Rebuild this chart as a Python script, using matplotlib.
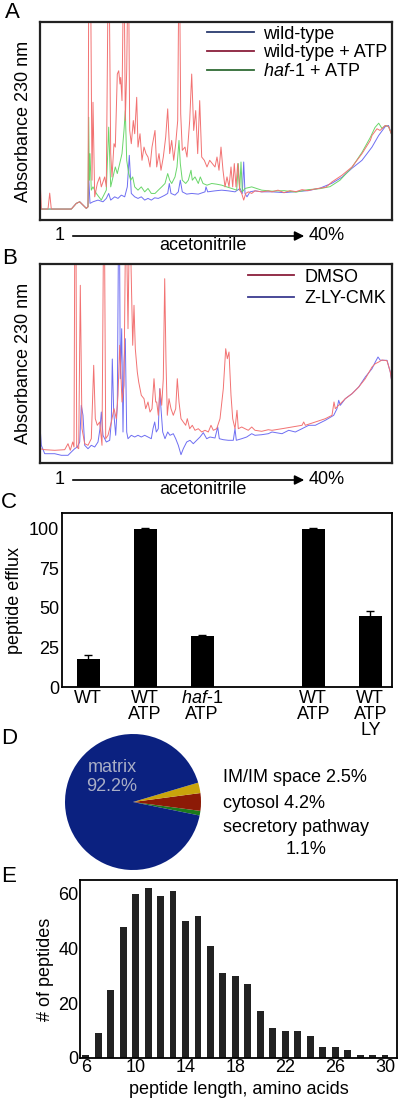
import numpy as np
import matplotlib
matplotlib.use("Agg")
import matplotlib.pyplot as plt
from matplotlib.lines import Line2D

plt.rcParams['font.family'] = ['Liberation Sans', 'DejaVu Sans']
plt.rcParams['mathtext.fontset'] = 'custom'
plt.rcParams['mathtext.it'] = 'Liberation Sans:italic'
plt.rcParams['mathtext.rm'] = 'Liberation Sans'

# ----------------------------
# Data
# ----------------------------
# panel A chromatograms (elution position, absorbance), traced by hand
A_WT_X = [0, 31.3, 36.3, 39.7, 43, 46.3, 48, 48.7, 50, 53, 58, 63, 66.3, 68.7, 70.7, 74.7, 78,
          81.3, 84.7, 87.3, 89.3, 91.3, 94.7, 98, 101.3, 104.7, 108, 111.3, 114.7, 118.3, 121.7,
          125, 127.7, 129.3, 131, 135, 138.3, 140.3, 142.3, 146.7, 151.7, 158.3, 165, 166, 167.7,
          175, 181.7, 188.3, 195, 200, 202.3, 203.7, 205, 207, 210, 215, 221.7, 232, 244, 256,
          268, 280, 292, 302, 312, 322, 332, 338.7, 345.3, 348.5, 352]
A_WT_Y = [11, 11, 16.7, 18.3, 15, 11.7, 13.3, 43.3, 16.7, 18.3, 20, 18.3, 21.7, 26.7, 20, 23.3, 21.7,
          25, 23.3, 33.3, 65, 26.7, 23.3, 21.7, 23.3, 20, 21.7, 20, 22.3, 21.7, 23.3,
          25, 26.7, 36.7, 26.7, 25, 28.3, 40, 28.3, 26, 26.7, 26, 28.3, 33.3, 28.3,
          29.3, 30, 29.3, 28.3, 31.7, 26.7, 58.3, 26.7, 23.3, 28.3, 29.3, 28.3, 28.3, 27.5, 28.5,
          29.5, 32, 37, 43, 52, 60, 73.3, 85, 94, 95, 85]

A_ATP_X = [0.5, 1.3, 8, 9.7, 11.3, 31.3, 36.3, 39.7, 43, 46.3, 48, 48.7, 50.7, 52, 53, 54.7,
           57.3, 59.7, 61.3, 64.7, 66.3, 68, 69.3, 70.7, 72, 74, 75.3, 77.3, 78.7, 80, 80.7,
           82, 83.3, 84.3, 85.3, 86.7, 87.7, 88.7, 89.7, 91.3, 93.3, 94.7, 96.7, 98, 100, 102,
           104, 106, 108, 110, 112, 115, 116.7, 119, 121, 123.3, 125.7, 127.7, 129.7, 131.7,
           133.7, 135.7, 137.7, 138.7, 139.7, 140.7, 142.3, 145, 147, 149.7, 151.7, 153.7,
           155.7, 157.7, 159.7, 161.7, 164.3, 167, 169.7, 172.3, 175, 177, 179, 181, 183, 185,
           187, 189, 191, 192.7, 194.3, 196, 197.7, 199.7, 201.7, 203.7, 205.7, 208.3, 211.7,
           215, 221.7, 228.3, 232, 238, 244, 250, 256, 262, 268, 274, 280, 286, 292, 302, 312,
           322, 330.3, 332, 337, 340, 345.3, 348.5, 352]
A_ATP_Y = [31.7, 11, 11, 27, 11, 11, 16.7, 18.3, 15, 11.7, 13.3, 230, 230, 40, 118.3, 23.3,
           36.7, 43.3, 33.3, 43.3, 33.3, 230, 230, 66.7, 43.3, 76.7, 73.3, 146.7, 150, 136.7, 143.3,
           120, 230, 230, 100, 150, 230, 230, 90, 76.7, 100, 86.7, 123.3, 73.3, 86.7, 60,
           73.3, 66.7, 63.3, 53.3, 73.3, 90, 53.3, 66.7, 50, 63.3, 83.3, 111.7, 66.7, 80,
           60, 76.7, 100, 230, 230, 106.7, 70, 73.3, 63.3, 100, 146.7, 90,
           110, 66.7, 120, 63.3, 60, 53.3, 60, 56.7, 53.3, 63.3, 50, 73.3, 50, 33.3,
           43.3, 33.3, 53.3, 33.3, 56.7, 33.3, 56.7, 30, 26.7, 20, 26.7, 28.3, 26.7,
           29.3, 28.3, 29.3, 28.3, 30, 27.5, 29.5, 28.5, 30.5, 29.5, 31, 32, 33, 38.3, 45, 53.3,
           66.7, 80, 85, 91.7, 90, 95, 94, 85]

A_HAF_X = [0, 31.3, 36.3, 39.7, 43, 46.3, 48, 48.7, 49.3, 50, 51.3, 53, 56.3, 61.3, 66.3, 68.7,
           70.7, 73, 75.3, 77.3, 79.7, 82, 84, 85.3, 86.7, 88.7, 90.7, 92.7, 94.7, 98, 101.3,
           104.7, 108, 111.3, 115, 118.3, 121.7, 125, 127.7, 129.7, 131.7, 135, 137, 139, 140.3,
           142.3, 145.7, 148.3, 151, 152.3, 155, 158.3, 160.3, 163, 167, 171.7, 176.7, 181.7,
           186.7, 191.7, 196.7, 198.3, 199.7, 201, 202.3, 205, 211.7, 221.7, 232, 244, 256, 268,
           280, 290, 300, 312, 322, 330.3, 335, 338.7, 342, 345.3, 348.5, 352]
A_HAF_Y = [11, 11, 16.7, 18.3, 15, 11.7, 13.3, 103.3, 40, 66.7, 30, 33.3, 26.7, 20, 30, 93.3,
           33.3, 43.3, 53.3, 46.7, 56.7, 66.7, 90, 110, 60, 46.7, 40, 43.3, 33.3, 30, 33.3,
           28.3, 31.7, 26.7, 26.7, 30, 33.3, 36.7, 46.7, 40, 36.7, 43.3, 53.3, 80, 56.7,
           40, 36.7, 40, 50, 40, 43.3, 36.7, 43.3, 36.7, 35, 36.7, 36, 35,
           33.3, 31.7, 30, 56.7, 30, 58.3, 28.3, 31.7, 33.3, 30, 29, 29.5, 28, 30.5,
           31.5, 33.5, 40, 53, 68, 83, 93, 97.3, 92, 95, 94, 85]

# panel B chromatograms
B_DMSO_X = [0, 4.7, 14.7, 24.7, 28, 30.3, 32.7, 34, 34.8, 36, 36.7, 38.7, 40.3, 42, 44.7, 48,
            51.3, 53.7, 55.3, 57.3, 59.7, 62, 63.5, 64.5, 65.7, 68, 71.3, 74, 76.3, 78, 79.7, 82,
            84, 85.5, 86.5, 88, 89.3, 90.3, 91.3, 92.7, 94, 95.3, 97.3, 98.7, 101.3, 104, 105.7,
            108, 110, 112, 114, 115.7, 116.7, 118.3, 120, 121.7, 123.3, 124.7, 126, 127.3, 129,
            131, 133.3, 135.7, 137.3, 139, 141, 143.3, 145.7, 147.3, 149.7, 152.3, 155, 158.3,
            161.7, 165, 168.3, 171, 173.3, 176.7, 180, 183.3, 185.7, 187.3, 189, 191, 192.7, 195,
            197, 198.3, 201.7, 205, 208.3, 211.7, 215, 221.7, 228.3, 232, 242, 252, 262, 263.7,
            265.3, 275.3, 285.3, 292, 294, 295.3, 298.7, 305.3, 312, 318.7, 325.3, 332, 335.3,
            338.7, 342, 347, 350.3, 352]
B_DMSO_Y = [14.3, 13.3, 12.7, 13.3, 19.3, 12.7, 21, 16, 230, 230, 16, 14.3, 177.7, 34.3, 19.3, 17.7,
            24.3, 97.7, 44.3, 37.7, 41, 17.7, 230, 230, 24.3, 27.7, 41, 54.3, 44.3, 67.7, 117.7, 61,
            77.7, 230, 230, 134.3, 230, 230, 184.3, 117.7, 157.7, 114.3, 91, 81, 67.7, 64.3, 54.3,
            61, 51, 54.3, 84.3, 61, 61, 47.7, 74.3, 57.7, 84.3, 184.3, 101, 47.7, 64.3,
            54.3, 47.7, 54.3, 84.3, 61, 44.3, 41, 37.7, 44.3, 34.3, 37.7, 32.7, 34.3,
            31, 32.7, 31, 37.7, 32.7, 34.3, 44.3, 74.3, 114.3, 104.3, 111, 67.7, 44.3, 34.3,
            52.7, 34.3, 36, 34.3, 32.7, 36, 32.7, 31.7, 33.3, 32.7, 34.3, 36, 37.7, 41,
            37.7, 41, 44.3, 47.7, 61, 54.3, 57.7, 64.3, 69.3, 76, 84.3, 96, 99.3,
            101, 103, 102.3, 91, 80]

B_LY_X = [0, 1.3, 4.7, 14.7, 21.3, 28, 31.3, 34.7, 37.3, 39.7, 41.3, 43, 44.7, 48, 51.3, 54.7,
          58, 60, 61.3, 63, 66.3, 69.7, 71.3, 72.3, 73.7, 75.7, 77.3, 78.5, 79.5, 80.3, 81.7, 83,
          84, 85.3, 86.7, 88, 91.3, 94.7, 98, 101.3, 104.7, 108, 111.3, 113, 114.7, 116.3, 118.3,
          119.7, 121, 122.7, 125, 127.7, 130, 133.3, 135.7, 138.3, 141, 143.3, 146.7, 150,
          153.3, 156.7, 160, 163.3, 166.7, 170, 175, 177.7, 179.3, 183.3, 188.3, 193.3, 195,
          196.3, 201.7, 206.7, 211.7, 215, 221.7, 228.3, 232, 242, 248.7, 255.3, 262, 268.7,
          275.3, 285.3, 293.7, 297, 298.7, 300.3, 305.3, 312, 318.7, 325.3, 332, 335.3, 338,
          340.3, 343.7, 347, 350.3, 352]
B_LY_Y = [37.7, 17.7, 9.3, 9.3, 7.7, 7.7, 11, 14.3, 16, 21, 57.7, 47.7, 17.7, 14.3, 17.7, 16,
          21, 34.3, 51, 27.7, 21, 22.7, 41, 104, 51, 27.7, 57.7, 230, 230, 84.3, 134.3, 31,
          101, 124.3, 31, 24.3, 27.7, 26, 27.7, 26, 27.7, 26, 24.3, 34.3, 41, 31, 34.3,
          74.3, 54.3, 31, 24.3, 31, 27.7, 29.3, 24.3, 17.7, 8.3, 14.3, 21, 22.7,
          19.3, 22.7, 26, 30.3, 24.3, 26, 25, 36, 24.3, 23.3, 22.7, 22.7, 34.3,
          22.7, 24.3, 26, 29.3, 27.7, 28.3, 29.3, 31, 29.3, 32.7, 31, 34.3, 37.7,
          37.7, 42.7, 47.7, 54.3, 62.7, 57.7, 64.3, 69.3, 76, 86, 94.3, 101, 106,
          102.7, 102.7, 102.7, 91, 80]

# panel C
C_LABELS = ["WT", "WT\nATP", "$\\mathit{haf}$-$\\mathit{1}$\nATP", "WT\nATP", "WT\nATP\nLY"]
C_EFFLUX = [18, 100, 32, 100, 45]
C_ERR = [2, 0.4, 1, 0.4, 3]

# panel D
D_LABELS = ["secretory pathway", "cytosol", "IM/IM space", "matrix"]
D_PCT = [1.1, 4.2, 2.5, 92.2]
D_COLORS = ["#1c7a1c", "#8c1a06", "#c9a40c", "#0b2180"]

# panel E
E_LENGTH = list(range(6, 31))
E_COUNT = [1, 9, 25, 48, 60, 62, 59, 61, 50, 52, 41, 31, 30, 27, 17, 11, 10, 10, 8, 4, 4, 3, 1, 1, 1]

# ----------------------------
# Layout helpers (pixel -> figure fraction)
# ----------------------------
W, H = 400, 1105
FS = 13


def box(l, t, r, b):
    return [l / W, 1 - b / H, (r - l) / W, (b - t) / H]


def ftext(x, y, s, **kw):
    fig.text(x / W, 1 - y / H, s, **kw)


def arrow_axis(y_arrow, y_label):
    ftext(60, y_arrow, "1", ha="center", va="center", fontsize=FS)
    ftext(309, y_arrow, "40%", ha="left", va="center", fontsize=FS)
    fig.add_artist(plt.matplotlib.patches.FancyArrowPatch(
        (70 / W, 1 - y_arrow / H), (307 / W, 1 - y_arrow / H),
        transform=fig.transFigure, arrowstyle="-|>", mutation_scale=14,
        lw=1.2, color="black"))
    ftext(203, y_label, "acetonitrile", ha="center", va="center", fontsize=FS)


def chrom_axes(rect):
    ax = fig.add_axes(rect)
    ax.set_xlim(0, 352)
    ax.set_ylim(0, 199)
    ax.set_xticks([])
    ax.set_yticks([])
    for s in ax.spines.values():
        s.set_linewidth(1.6)
        s.set_color("#222222")
    ax.set_ylabel("Absorbance 230 nm", fontsize=FS, labelpad=6)
    return ax


fig = plt.figure(figsize=(W / 100, H / 100), dpi=100)

# ----------------------------
# A
# ----------------------------
axA = chrom_axes(box(40, 22, 392, 220))
axA.plot(A_WT_X, A_WT_Y, color="#6e6ef2", lw=0.7)
axA.plot(A_HAF_X, A_HAF_Y, color="#6ad66a", lw=0.7)
axA.plot(A_ATP_X, A_ATP_Y, color="#f27272", lw=0.7)
hA = [Line2D([], [], color="#2a3a6e", lw=1.3),
      Line2D([], [], color="#8a1f3c", lw=1.3),
      Line2D([], [], color="#2f6b35", lw=1.3)]
axA.legend(hA, ["wild-type", "wild-type + ATP", "$\\mathit{haf}$-$\\mathit{1}$ + ATP"],
           loc="upper left", bbox_to_anchor=((203 - 40) / 352, 1.0), frameon=False,
           fontsize=FS, handlelength=2.6, handletextpad=0.55, labelspacing=0.1,
           borderpad=0.2, borderaxespad=0)
ftext(12, 12, "A", ha="center", va="center", fontsize=16)
arrow_axis(236, 246)

# ----------------------------
# B
# ----------------------------
axB = chrom_axes(box(40, 264, 392, 463))
axB.plot(B_LY_X, B_LY_Y, color="#6e6ef2", lw=0.7)
axB.plot(B_DMSO_X, B_DMSO_Y, color="#f27272", lw=0.7)
hB = [Line2D([], [], color="#8a1f3c", lw=1.3),
      Line2D([], [], color="#3c3c90", lw=1.3)]
axB.legend(hB, ["DMSO", "Z-LY-CMK"], loc="upper left",
           bbox_to_anchor=((243 - 40) / 352, 1.0), frameon=False, fontsize=FS,
           handlelength=2.6, handletextpad=0.55, labelspacing=0.25,
           borderpad=0.25, borderaxespad=0)
ftext(10, 258, "B", ha="center", va="center", fontsize=16)
arrow_axis(480, 490)

# ----------------------------
# C
# ----------------------------
axC = fig.add_axes(box(62, 513, 392, 687))
xc = np.array([0, 1, 2, 3.95, 4.95])
axC.bar(xc, C_EFFLUX, width=0.4, color="black",
        yerr=C_ERR, error_kw=dict(ecolor="black", elinewidth=1, capsize=3, capthick=1))
axC.set_xlim(-0.46, 5.33)
axC.set_ylim(0, 110)
axC.set_yticks([0, 25, 50, 75, 100])
axC.set_xticks(xc)
axC.set_xticklabels(C_LABELS, linespacing=0.95)
axC.tick_params(axis="both", length=0, labelsize=FS, pad=2)
axC.set_ylabel("peptide efflux", fontsize=FS, labelpad=4)
for s in axC.spines.values():
    s.set_linewidth(1.3)
ftext(9, 503, "C", ha="center", va="center", fontsize=16)

# ----------------------------
# D
# ----------------------------
axD = fig.add_axes(box(65, 734, 201, 870))
axD.pie(D_PCT, colors=D_COLORS, startangle=-11.5, counterclock=True,
        wedgeprops=dict(linewidth=0))
axD.set_xlim(-1, 1)
axD.set_ylim(-1, 1)
axD.text(-0.31, 0.37, "matrix\n%.1f%%" % D_PCT[3], ha="center", va="center",
         color="#a9aec6", fontsize=FS, linespacing=1.15)
ftext(223, 778, "%s %.1f%%" % (D_LABELS[2], D_PCT[2]), ha="left", va="center", fontsize=FS)
ftext(223, 803, "%s %.1f%%" % (D_LABELS[1], D_PCT[1]), ha="left", va="center", fontsize=FS)
ftext(223, 827, D_LABELS[0], ha="left", va="center", fontsize=FS)
ftext(306, 850, "%.1f%%" % D_PCT[0], ha="center", va="center", fontsize=FS)
ftext(9, 738, "D", ha="center", va="center", fontsize=16)

# ----------------------------
# E
# ----------------------------
axE = fig.add_axes(box(80, 880, 397, 1058))
axE.bar(E_LENGTH, E_COUNT, width=0.55, color="#222222")
axE.set_xlim(5.54, 30.96)
axE.set_ylim(0, 65)
axE.set_xticks(range(6, 31, 4))
axE.set_yticks([0, 20, 40, 60])
axE.tick_params(axis="both", length=0, labelsize=FS, pad=1)
axE.set_xlabel("peptide length, amino acids", fontsize=FS, labelpad=3)
axE.set_ylabel("# of peptides", fontsize=FS, labelpad=3)
for s in axE.spines.values():
    s.set_linewidth(1.3)
ftext(9, 877, "E", ha="center", va="center", fontsize=16)

fig.savefig("out.png", dpi=100)
